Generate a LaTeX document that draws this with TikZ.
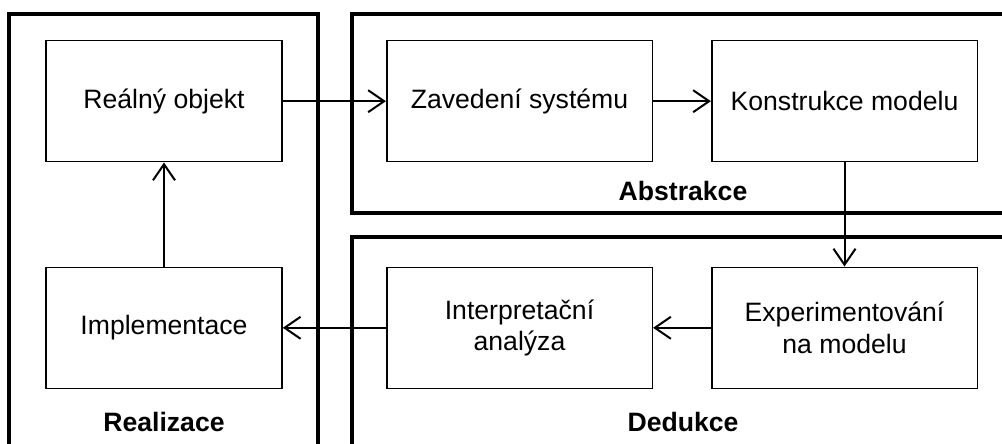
\documentclass[tikz,border=0pt]{standalone}
\usepackage{fontspec}
\setmainfont{Liberation Sans}
\usetikzlibrary{arrows.meta}
\begin{document}
\begin{tikzpicture}[x=0.5pt,y=-0.5pt,
  frame/.style={line width=1.6pt},
  box/.style={draw,line width=0.8pt,minimum height=60.5pt,inner sep=0pt,align=center,font=\fontsize{13.3}{15.8}\selectfont},
  lbox/.style={box,minimum width=118pt},
  rbox/.style={box,minimum width=132.8pt},
  lab/.style={font=\fontsize{13.3}{15.8}\selectfont\bfseries},
  conn/.style={line width=1pt,-{Straight Barb[length=8pt,width=11pt,line width=1pt]}}]
\useasboundingbox (0,0) rectangle (1002,444);
\clip (0,0) rectangle (1002,444);
\fill[white] (0,0) rectangle (1002,444);
% frames
\draw[frame] (9,460) -- (9,14) -- (318,14) -- (318,460);
\draw[frame] (1010,14) -- (352,14) -- (352,213) -- (1010,213);
\draw[frame] (1010,237) -- (352,237) -- (352,460);
% labels
\node[lab] (labA) at (683,191) {Abstrakce};
\node[lab] (labD) at (683,422) {Dedukce};
\node[lab] (labR) at (164,422) {Realizace};
% boxes
\node[lbox] (ro) at (164,101.2) {Reálný objekt};
\node[lbox] (im) at (164,327.8) {Implementace};
\node[rbox] (zs) at (519.5,101.2) {Zavedení systému};
\node[rbox] (km) at (844.5,101.2) {Konstrukce modelu};
\node[rbox] (ia) at (519.5,327.8) {Interpretační\\analýza};
\node[rbox] (ex) at (844.5,327.8) {Experimentování\\na modelu};
% connectors
\draw[conn] (ro) -- (zs);
\draw[conn] (zs) -- (km);
\draw[conn] (km) -- (ex);
\draw[conn] (ex) -- (ia);
\draw[conn] (ia) -- (im);
\draw[conn] (im) -- (ro);
\end{tikzpicture}
\end{document}
